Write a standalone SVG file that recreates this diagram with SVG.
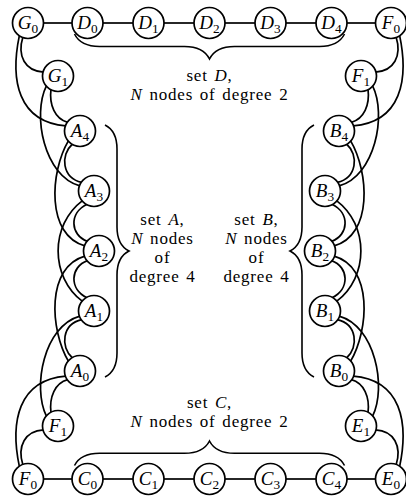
<svg xmlns="http://www.w3.org/2000/svg" width="406" height="499" viewBox="0 0 406 499">
<style>
.n circle { fill:#fff; stroke:#000; stroke-width:1.7; }
.n text { font-family:"Liberation Serif","Times New Roman",serif; font-size:19px; text-anchor:middle; fill:#000; }
.i { font-style:italic; }
.s { font-size:13.3px; }
.e path, .e line { fill:none; stroke:#000; stroke-width:1.7; }
.br path { fill:none; stroke:#000; stroke-width:1.6; }
.lbl text { font-family:"Liberation Serif","Times New Roman",serif; font-size:17px; text-anchor:middle; letter-spacing:0.8px; word-spacing:1.7px; fill:#000; }
</style>
<rect width="406" height="499" fill="#fff"/>
<g id="connectors" class="e">
<line x1="43.5" y1="23" x2="72" y2="23"/>
<line x1="103" y1="23" x2="133" y2="23"/>
<line x1="164" y1="23" x2="194" y2="23"/>
<line x1="225" y1="23" x2="255" y2="23"/>
<line x1="286" y1="23" x2="316" y2="23"/>
<line x1="347" y1="23" x2="375.5" y2="23"/>
<line x1="43.5" y1="479" x2="72" y2="479"/>
<line x1="103" y1="479" x2="133" y2="479"/>
<line x1="164" y1="479" x2="194" y2="479"/>
<line x1="225" y1="479" x2="255" y2="479"/>
<line x1="286" y1="479" x2="316" y2="479"/>
<line x1="347" y1="479" x2="375.5" y2="479"/>
<path d="M22.9 37.1C17 56 25 71 43.5 72.1"/>
<path d="M51 89.2C49 105 55 119 67.7 122.4"/>
<path d="M72.5 144C60 155 62 178 81.7 182.4"/>
<path d="M87 204.2C69 213 70 235 87.5 241.4"/>
<path d="M19.4 35.3C10 80 18 122 65.9 125.9"/>
<path d="M46.5 85.6C32 115 44 176 79.9 185.9"/>
<path d="M68.5 140.6C50 172 46 235 84.9 245.9"/>
<path d="M82.5 200.6C50 225 50 277 82.5 301.4"/>
<path d="M22.9 464.9C17 446 25 431 43.5 429.9"/>
<path d="M51 412.8C49 397 55 383 67.7 379.6"/>
<path d="M72.5 358C60 347 62 324 81.7 319.6"/>
<path d="M87 297.8C69 289 70 267 87.5 260.6"/>
<path d="M19.4 466.7C10 422 18 380 65.9 376.1"/>
<path d="M46.5 416.4C32 387 44 326 79.9 316.1"/>
<path d="M68.5 361.4C50 330 46 267 84.9 256.1"/>
<path d="M396.1 37.1C402 56 394 71 375.5 72.1"/>
<path d="M368 89.2C370 105 364 119 351.3 122.4"/>
<path d="M346.5 144C359 155 357 178 337.3 182.4"/>
<path d="M332 204.2C350 213 349 235 331.5 241.4"/>
<path d="M399.6 35.3C409 80 401 122 353.1 125.9"/>
<path d="M372.5 85.6C387 115 375 176 339.1 185.9"/>
<path d="M350.5 140.6C369 172 373 235 334.1 245.9"/>
<path d="M336.5 200.6C369 225 369 277 336.5 301.4"/>
<path d="M396.1 464.9C402 446 394 431 375.5 429.9"/>
<path d="M368 412.8C370 397 364 383 351.3 379.6"/>
<path d="M346.5 358C359 347 357 324 337.3 319.6"/>
<path d="M332 297.8C350 289 349 267 331.5 260.6"/>
<path d="M399.6 466.7C409 422 401 380 353.1 376.1"/>
<path d="M372.5 416.4C387 387 375 326 339.1 316.1"/>
<path d="M350.5 361.4C369 330 373 267 334.1 256.1"/>
</g>
<g id="braces" class="br">
<path d="M74.5 34C78.25 41.5 87 46.5 99.5 46.5L184.5 46.5C197 46.5 205.75 51.5 209.5 59C213.25 51.5 222 46.5 234.5 46.5L319.5 46.5C332 46.5 340.75 41.5 344.5 34"/>
<path d="M74.5 465.5C78.25 458.2 87 453.25 99.5 453.25L184.5 453.25C197 453.25 205.75 448.3 209.5 441C213.25 448.3 222 453.25 234.5 453.25L319.5 453.25C332 453.25 340.75 458.2 344.5 465.5"/>
<path d="M105 125C112.2 128.6 117 137 117 149L117 227C117 239 121.8 247.4 129 251C121.8 254.6 117 263 117 275L117 353C117 365 112.2 373.4 105 377"/>
<path d="M314 125C306.8 128.6 302 137 302 149L302 227C302 239 297.2 247.4 290 251C297.2 254.6 302 263 302 275L302 353C302 365 306.8 373.4 314 377"/>
</g>
<g id="labels" class="lbl">
<text x="209.5" y="81">set <tspan class="i">D</tspan>,<tspan x="209.5" dy="19"><tspan class="i">N</tspan> nodes of degree 2</tspan></text>
<text x="209.5" y="408">set <tspan class="i">C</tspan>,<tspan x="209.5" dy="19"><tspan class="i">N</tspan> nodes of degree 2</tspan></text>
<text x="162.5" y="225">set <tspan class="i">A</tspan>,<tspan x="162.5" dy="19"><tspan class="i">N</tspan> nodes</tspan><tspan x="162.5" dy="19">of</tspan><tspan x="162.5" dy="19">degree 4</tspan></text>
<text x="256.5" y="225">set <tspan class="i">B</tspan>,<tspan x="256.5" dy="19"><tspan class="i">N</tspan> nodes</tspan><tspan x="256.5" dy="19">of</tspan><tspan x="256.5" dy="19">degree 4</tspan></text>
</g>
<g id="G0" class="n"><circle cx="28" cy="23" r="15.5"/><text x="28" y="29.3"><tspan class="i">G</tspan><tspan class="s" dy="3.6">0</tspan></text></g>
<g id="D0" class="n"><circle cx="87.5" cy="23" r="15.5"/><text x="87.5" y="29.3"><tspan class="i">D</tspan><tspan class="s" dy="3.6">0</tspan></text></g>
<g id="D1" class="n"><circle cx="148.5" cy="23" r="15.5"/><text x="148.5" y="29.3"><tspan class="i">D</tspan><tspan class="s" dy="3.6">1</tspan></text></g>
<g id="D2" class="n"><circle cx="209.5" cy="23" r="15.5"/><text x="209.5" y="29.3"><tspan class="i">D</tspan><tspan class="s" dy="3.6">2</tspan></text></g>
<g id="D3" class="n"><circle cx="270.5" cy="23" r="15.5"/><text x="270.5" y="29.3"><tspan class="i">D</tspan><tspan class="s" dy="3.6">3</tspan></text></g>
<g id="D4" class="n"><circle cx="331.5" cy="23" r="15.5"/><text x="331.5" y="29.3"><tspan class="i">D</tspan><tspan class="s" dy="3.6">4</tspan></text></g>
<g id="F0-top" class="n"><circle cx="391" cy="23" r="15.5"/><text x="391" y="29.3"><tspan class="i">F</tspan><tspan class="s" dy="3.6">0</tspan></text></g>
<g id="F0-bottom" class="n"><circle cx="28" cy="479" r="15.5"/><text x="28" y="485.3"><tspan class="i">F</tspan><tspan class="s" dy="3.6">0</tspan></text></g>
<g id="C0" class="n"><circle cx="87.5" cy="479" r="15.5"/><text x="87.5" y="485.3"><tspan class="i">C</tspan><tspan class="s" dy="3.6">0</tspan></text></g>
<g id="C1" class="n"><circle cx="148.5" cy="479" r="15.5"/><text x="148.5" y="485.3"><tspan class="i">C</tspan><tspan class="s" dy="3.6">1</tspan></text></g>
<g id="C2" class="n"><circle cx="209.5" cy="479" r="15.5"/><text x="209.5" y="485.3"><tspan class="i">C</tspan><tspan class="s" dy="3.6">2</tspan></text></g>
<g id="C3" class="n"><circle cx="270.5" cy="479" r="15.5"/><text x="270.5" y="485.3"><tspan class="i">C</tspan><tspan class="s" dy="3.6">3</tspan></text></g>
<g id="C4" class="n"><circle cx="331.5" cy="479" r="15.5"/><text x="331.5" y="485.3"><tspan class="i">C</tspan><tspan class="s" dy="3.6">4</tspan></text></g>
<g id="E0" class="n"><circle cx="391" cy="479" r="15.5"/><text x="391" y="485.3"><tspan class="i">E</tspan><tspan class="s" dy="3.6">0</tspan></text></g>
<g id="G1" class="n"><circle cx="58" cy="76" r="15.5"/><text x="58" y="82.3"><tspan class="i">G</tspan><tspan class="s" dy="3.6">1</tspan></text></g>
<g id="A4" class="n"><circle cx="80" cy="131" r="15.5"/><text x="80" y="137.3"><tspan class="i">A</tspan><tspan class="s" dy="3.6">4</tspan></text></g>
<g id="A3" class="n"><circle cx="94" cy="191" r="15.5"/><text x="94" y="197.3"><tspan class="i">A</tspan><tspan class="s" dy="3.6">3</tspan></text></g>
<g id="A2" class="n"><circle cx="99" cy="251" r="15.5"/><text x="99" y="257.3"><tspan class="i">A</tspan><tspan class="s" dy="3.6">2</tspan></text></g>
<g id="A1" class="n"><circle cx="94" cy="311" r="15.5"/><text x="94" y="317.3"><tspan class="i">A</tspan><tspan class="s" dy="3.6">1</tspan></text></g>
<g id="A0" class="n"><circle cx="80" cy="371" r="15.5"/><text x="80" y="377.3"><tspan class="i">A</tspan><tspan class="s" dy="3.6">0</tspan></text></g>
<g id="F1-bottom" class="n"><circle cx="58" cy="426" r="15.5"/><text x="58" y="432.3"><tspan class="i">F</tspan><tspan class="s" dy="3.6">1</tspan></text></g>
<g id="F1-top" class="n"><circle cx="361" cy="76" r="15.5"/><text x="361" y="82.3"><tspan class="i">F</tspan><tspan class="s" dy="3.6">1</tspan></text></g>
<g id="B4" class="n"><circle cx="339" cy="131" r="15.5"/><text x="339" y="137.3"><tspan class="i">B</tspan><tspan class="s" dy="3.6">4</tspan></text></g>
<g id="B3" class="n"><circle cx="325" cy="191" r="15.5"/><text x="325" y="197.3"><tspan class="i">B</tspan><tspan class="s" dy="3.6">3</tspan></text></g>
<g id="B2" class="n"><circle cx="320" cy="251" r="15.5"/><text x="320" y="257.3"><tspan class="i">B</tspan><tspan class="s" dy="3.6">2</tspan></text></g>
<g id="B1" class="n"><circle cx="325" cy="311" r="15.5"/><text x="325" y="317.3"><tspan class="i">B</tspan><tspan class="s" dy="3.6">1</tspan></text></g>
<g id="B0" class="n"><circle cx="339" cy="371" r="15.5"/><text x="339" y="377.3"><tspan class="i">B</tspan><tspan class="s" dy="3.6">0</tspan></text></g>
<g id="E1" class="n"><circle cx="361" cy="426" r="15.5"/><text x="361" y="432.3"><tspan class="i">E</tspan><tspan class="s" dy="3.6">1</tspan></text></g>
</svg>
